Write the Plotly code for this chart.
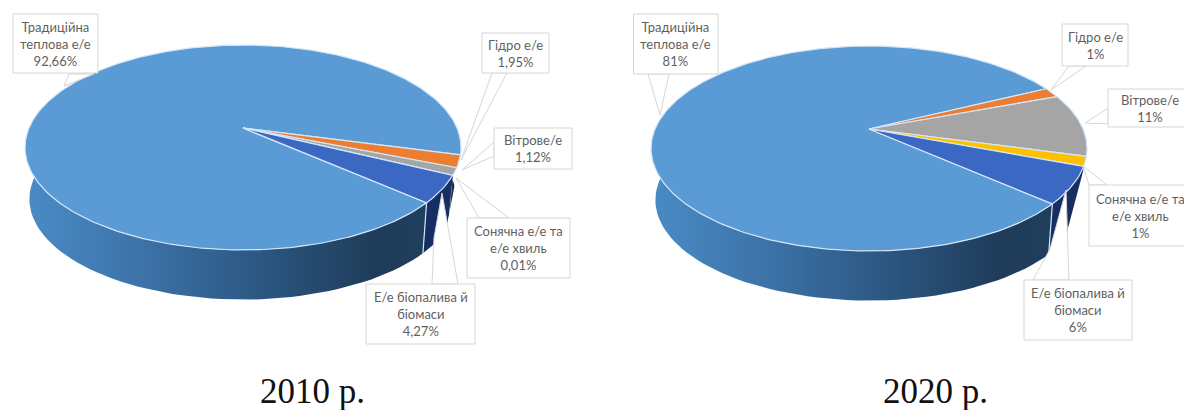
import numpy as np
import plotly.graph_objects as go

# ---------- data ----------
categories = ["Традиційна теплова е/е", "Гідро е/е", "Вітрове/е", "Сонячна е/е та е/е хвиль", "Е/е біопалива й біомаси"]
share_2010 = [92.66, 1.95, 1.12, 0.01, 4.27]
share_2020 = [81.2, 1.6, 9.9, 1.5, 5.8]
labels_2010 = ["92,66%", "1,95%", "1,12%", "0,01%", "4,27%"]
labels_2020 = ["81%", "1%", "11%", "1%", "6%"]
years = ["2010 р.", "2020 р."]

# ---------- styles ----------
TOP = ["#5B9BD5", "#ED7D31", "#A5A5A5", "#FFC000", "#3B68C2"]
TXT = "#5f5f5f"
EDGE = "#d3e7f8"
BOX = "#d6d6d6"
K, A, B = 0.19, 98.8, 214.0


def project(theta, cx, y0, level=0):
    s = 0.98 if level else 1.0
    y = y0 + 52 if level else y0
    d = 1 + K * np.sin(theta)
    return cx + s * B * np.cos(theta) / d, y - s * A * np.sin(theta) / d


def bounds(values, start):
    t = np.cumsum([0] + list(values)) / sum(values) * 2 * np.pi
    return np.radians(start) - t


def side_poly(t1, t2, cx, y0):
    th = np.linspace(t1, t2, 70)
    x1, y1 = project(th, cx, y0)
    x2, y2 = project(th[::-1], cx, y0, 1)
    return np.r_[x1, x2, x1[0]], np.r_[y1, y2, y1[0]]


fig = go.Figure()


def add_pie(values, start, cx, y0):
    b = bounds(values, start)
    bio_start = b[4] + 2 * np.pi
    # side faces, back to front
    x, y = side_poly(bio_start, np.radians(12), cx, y0)
    fig.add_trace(go.Scatter(x=x, y=y, fill="toself", mode="lines", line=dict(width=0),
                             fillcolor="#1c2a44", hoverinfo="skip"))
    x, y = side_poly(b[0], np.radians(-195), cx, y0)
    fig.add_trace(go.Scatter(x=x, y=y, fill="toself", mode="lines", line=dict(width=0),
                             fillgradient=dict(type="horizontal", start=cx - 218, stop=cx + 218,
                                               colorscale=[[0, "#4a8cc6"], [0.25, "#3d74aa"],
                                                           [0.5, "#2e5b88"], [0.8, "#1f3c5a"],
                                                           [1, "#20405f"]]),
                             hoverinfo="skip"))
    x, y = side_poly(b[0], bio_start, cx, y0)
    fig.add_trace(go.Scatter(x=x, y=y, fill="toself", mode="lines", line=dict(width=0),
                             fillcolor="#172e63", hoverinfo="skip"))
    # seam between the traditional and biomass side faces
    px, py = project(np.array([b[0]]), cx, y0)
    qx, qy = project(np.array([b[0]]), cx, y0, 1)
    fig.add_trace(go.Scatter(x=[px[0], qx[0]], y=[py[0], qy[0]], mode="lines",
                             line=dict(color=EDGE, width=1.2), hoverinfo="skip"))
    # top faces
    for i, v in enumerate(values):
        t1, t2 = b[i], b[i + 1]
        n = max(3, int(abs(t2 - t1) * 60))
        th = np.linspace(t1, t2, n)
        ex, ey = project(th, cx, y0)
        fig.add_trace(go.Scatter(x=np.r_[cx, ex, cx], y=np.r_[y0, ey, y0], fill="toself",
                                 mode="lines", fillcolor=TOP[i], name=categories[i],
                                 line=dict(color=EDGE, width=1.2), hoverinfo="name"))


add_pie(share_2010, -41.4, 243, 128)
add_pie(share_2020, -41.5, 869, 129)

# ---------- callouts (layout furniture, page coordinates) ----------
shapes = []
annots = []


def mask(path):
    shapes.append(dict(type="path", path=path, fillcolor="white", line=dict(width=0), layer="above"))


def wedge(path, fill="white"):
    shapes.append(dict(type="path", path=path, fillcolor=fill, line=dict(color=BOX, width=1), layer="above"))


def box(x0, y0, x1, y1, lines):
    shapes.append(dict(type="rect", x0=x0, y0=y0, x1=x1, y1=y1, fillcolor="white",
                       line=dict(color=BOX, width=1), layer="above"))
    xc = (x0 + x1) / 2 if x1 < 1184 else (x0 + 1184 + 8) / 2
    annots.append(dict(x=xc, y=(y0 + y1) / 2, text="<br>".join(lines), showarrow=False,
                       font=dict(family="Lato", size=13, color=TXT), align="center",
                       xanchor="center", yanchor="middle"))


# 2010
mask("M 456,178 L 447,225 L 447,292 L 520,292 L 520,178 Z")
wedge("M 69,74 L 64,86 L 94,74 Z")
wedge("M 492,73 L 461,160 L 507,73 Z")
wedge("M 494,142 L 462,170 L 494,156 Z")
wedge("M 509,218 L 456,178 L 479,218 Z")
wedge("M 432,284 L 434,238 L 442,193 L 458,284 Z")
box(13, 14, 98, 73, ["Традиційна", "теплова е/е", labels_2010[0]])
box(482, 33, 549, 73, ["Гідро е/е", labels_2010[1]])
box(494, 128, 572, 169, ["Вітрове/е", labels_2010[2]])
box(467, 218, 570, 278, ["Сонячна е/е та", "е/е хвиль", labels_2010[3]])
box(366, 284, 475, 344, ["Е/е біопалива й", "біомаси", labels_2010[4]])

# 2020
mask("M 1084,168 L 1068,228 L 1068,282 L 1140,282 L 1140,168 Z")
wedge("M 648,74 L 660,115 L 669,74 Z")
wedge("M 1069,66 L 1051,90 L 1086,66 Z")
wedge("M 1108,108 L 1085,123 L 1108,124 Z")
wedge("M 1089,185 L 1083,166 L 1107,185 Z")
wedge("M 1033,280 L 1050,249 L 1066,190 L 1069,280 Z")
box(633.5, 14, 718, 74, ["Традиційна", "теплова е/е", labels_2020[0]])
box(1062, 24, 1128, 66, ["Гідро е/е", labels_2020[1]])
box(1108, 89, 1190, 127, ["Вітрове/е", labels_2020[2]])
box(1089, 185, 1190, 246, ["Сонячна е/е та", "е/е хвиль", labels_2020[3]])
box(1024, 280, 1132, 340, ["Е/е біопалива й", "біомаси", labels_2020[4]])

for xc, txt in zip([312, 935], years):
    annots.append(dict(x=xc, y=391, text=txt, showarrow=False, xanchor="center", yanchor="middle",
                       font=dict(family="Liberation Serif", size=35, color="#111111")))

fig.update_layout(
    width=1184, height=410, margin=dict(l=0, r=0, t=0, b=0), showlegend=False,
    paper_bgcolor="white", plot_bgcolor="white", shapes=shapes, annotations=annots,
    xaxis=dict(range=[0, 1184], visible=False, fixedrange=True),
    yaxis=dict(range=[410, 0], visible=False, fixedrange=True),
)
fig.write_html("out.html", post_script="document.body.style.margin='0';", config=dict(displayModeBar=False))
